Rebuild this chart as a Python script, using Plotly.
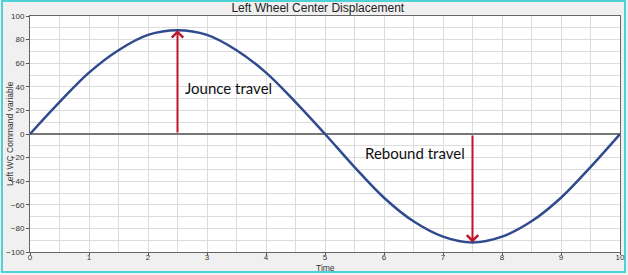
import plotly.graph_objects as go

time = [0, 0.5, 1, 1.5, 2, 2.5, 3, 3.5, 4, 4.5, 5, 5.5, 6, 6.5, 7, 7.5, 8, 8.5, 9, 9.5, 10]
displacement = [0, 27, 52, 71, 84, 88, 84, 71, 52, 27, 0, -28, -54, -74, -87, -92, -87, -74, -54, -28, 0]

jounce_t, jounce_peak = 2.5, 88
rebound_t, rebound_peak = 7.5, -92

fig = go.Figure()
fig.add_trace(go.Scatter(x=time, y=displacement, mode="lines",
                         line=dict(color="#2f4a8e", width=2.5, shape="spline", smoothing=1.0),
                         hoverinfo="skip", showlegend=False))

red = "#c0152a"
fig.add_annotation(x=jounce_t, y=jounce_peak, ax=jounce_t, ay=0, xref="x", yref="y",
                   axref="x", ayref="y", text="", showarrow=True, arrowhead=4,
                   arrowsize=1.1, arrowwidth=2, arrowcolor=red)
fig.add_annotation(x=rebound_t, y=rebound_peak, ax=rebound_t, ay=0, xref="x", yref="y",
                   axref="x", ayref="y", text="", showarrow=True, arrowhead=4,
                   arrowsize=1.1, arrowwidth=2, arrowcolor=red)
fig.add_annotation(x=2.6, y=39, xref="x", yref="y", text="Jounce travel", showarrow=False,
                   xanchor="left", yanchor="middle",
                   font=dict(family="Lato, Open Sans, sans-serif", size=15, color="#111"))
fig.add_annotation(x=5.64, y=-16, xref="x", yref="y", text="Rebound travel", showarrow=False,
                   xanchor="left", yanchor="middle",
                   font=dict(family="Lato, Open Sans, sans-serif", size=15, color="#111"))

axfont = dict(family="Arial, Liberation Sans, sans-serif", size=8, color="#333")
# axis titles
fig.add_annotation(x=(10 - 30) / 590, y=(252 - 134) / 236, xref="paper", yref="paper",
                   text="Left WC Command variable", textangle=-90, showarrow=False,
                   xanchor="center", yanchor="middle",
                   font=dict(family="Arial, Liberation Sans, sans-serif", size=8.5, color="#333"))
fig.add_annotation(x=(325 - 30) / 590, y=(252 - 268) / 236, xref="paper", yref="paper",
                   text="Time", showarrow=False, xanchor="center", yanchor="middle",
                   font=dict(family="Arial, Liberation Sans, sans-serif", size=8.5, color="#333"))

# outer teal frame
fig.add_shape(type="rect", xref="paper", yref="paper",
              x0=(2 - 30) / 590, x1=(625 - 30) / 590,
              y0=(252 - 272) / 236, y1=(252 - 1) / 236,
              line=dict(color="#4fd2d6", width=2), layer="below")

fig.update_layout(
    width=628, height=275,
    margin=dict(l=30, r=8, t=16, b=23),
    paper_bgcolor="#f0f0f0", plot_bgcolor="white",
    title=dict(text="Left Wheel Center Displacement", x=0.506, xanchor="center",
               y=1 - 8 / 275, yref="container", yanchor="middle",
               font=dict(family="Arial, Liberation Sans, sans-serif", size=12, color="#222")),
    xaxis=dict(range=[0, 10], dtick=1, tick0=0, showgrid=True, gridcolor="#dcdcdc", gridwidth=1,
               minor=dict(dtick=0.5, showgrid=True, gridcolor="#dcdcdc", gridwidth=1),
               ticks="outside", ticklen=2, tickcolor="#555", tickfont=axfont,
               ticklabelstandoff=-5,
               showline=True, linecolor="#666", linewidth=1, mirror=True,
               zeroline=False, automargin=False),
    yaxis=dict(range=[-100, 100], dtick=20, tick0=0, showgrid=True, gridcolor="#dcdcdc", gridwidth=1,
               minor=dict(dtick=10, showgrid=True, gridcolor="#dcdcdc", gridwidth=1),
               ticks="outside", ticklen=3, tickcolor="#555", tickfont=axfont,
               showline=True, linecolor="#666", linewidth=1, mirror=True,
               zeroline=True, zerolinecolor="#777", zerolinewidth=1.5, automargin=False),
)

fig.write_html("out.html")
